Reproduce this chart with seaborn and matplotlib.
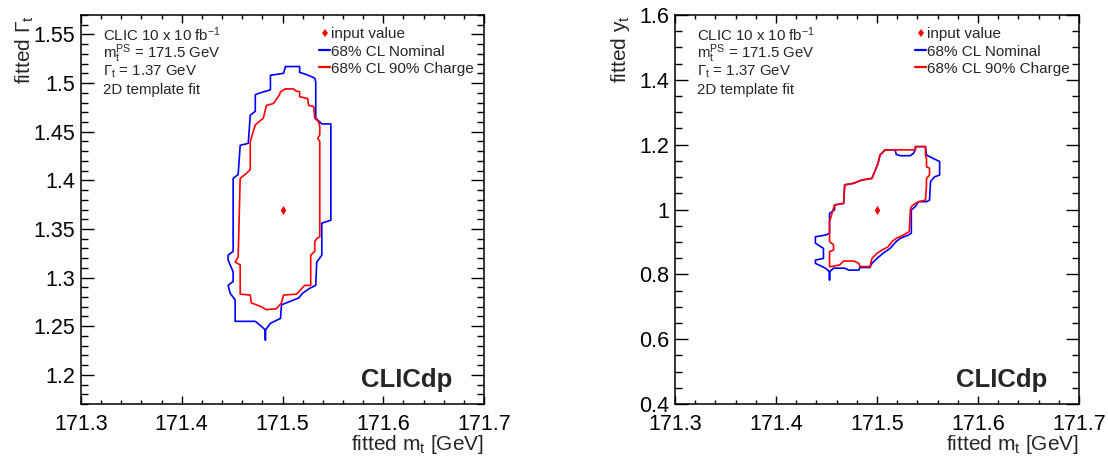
import numpy as np
import matplotlib
matplotlib.use("Agg")
import matplotlib.pyplot as plt
import seaborn as sns
from matplotlib.lines import Line2D
from matplotlib.ticker import MultipleLocator, FuncFormatter

# ---------------- data ----------------
input_mt = 171.5
input_width = 1.37
input_yt = 1.0

# left panel: (m_t, Gamma_t) 68% CL contours
left_nom_x = [171.503, 171.517, 171.517, 171.523, 171.528, 171.532, 171.533, 171.533, 171.537, 171.539,
              171.548, 171.548, 171.539, 171.539, 171.534, 171.533, 171.527, 171.520, 171.516, 171.499,
              171.498, 171.488, 171.483, 171.483, 171.483, 171.479, 171.473, 171.464, 171.453, 171.453,
              171.448, 171.446, 171.451, 171.451, 171.446, 171.446, 171.451, 171.451, 171.456, 171.458,
              171.466, 171.468, 171.473, 171.473, 171.478, 171.488, 171.488, 171.501, 171.503]
left_nom_y = [1.517, 1.517, 1.511, 1.509, 1.507, 1.505, 1.501, 1.464, 1.460, 1.458,
              1.458, 1.359, 1.356, 1.323, 1.316, 1.292, 1.289, 1.284, 1.279, 1.272,
              1.258, 1.253, 1.246, 1.236, 1.246, 1.250, 1.255, 1.255, 1.255, 1.277,
              1.284, 1.292, 1.296, 1.306, 1.318, 1.323, 1.327, 1.402, 1.406, 1.436,
              1.438, 1.467, 1.471, 1.488, 1.490, 1.493, 1.508, 1.510, 1.517]

left_chg_x = [171.503, 171.511, 171.513, 171.517, 171.517, 171.525, 171.526, 171.531, 171.532, 171.536,
              171.537, 171.537, 171.535, 171.537, 171.537, 171.534, 171.532, 171.532, 171.528, 171.528,
              171.522, 171.514, 171.501, 171.499, 171.494, 171.484, 171.479, 171.469, 171.468, 171.458,
              171.458, 171.453, 171.456, 171.458, 171.464, 171.468, 171.468, 171.473, 171.481, 171.484,
              171.491, 171.497, 171.498, 171.503]
left_chg_y = [1.494, 1.494, 1.492, 1.491, 1.486, 1.484, 1.477, 1.476, 1.464, 1.460,
              1.455, 1.447, 1.443, 1.440, 1.342, 1.340, 1.337, 1.327, 1.323, 1.292,
              1.292, 1.283, 1.282, 1.274, 1.268, 1.267, 1.270, 1.274, 1.282, 1.283,
              1.313, 1.316, 1.321, 1.402, 1.407, 1.411, 1.440, 1.457, 1.464, 1.477,
              1.479, 1.488, 1.491, 1.494]

# right panel: (m_t, y_t) 68% CL contours
right_nom_x = [171.508, 171.518, 171.519, 171.523, 171.533, 171.536, 171.538, 171.538, 171.548, 171.549,
               171.554, 171.562, 171.562, 171.557, 171.553, 171.552, 171.549, 171.541, 171.538, 171.534,
               171.534, 171.531, 171.523, 171.519, 171.516, 171.513, 171.506, 171.500, 171.495, 171.493,
               171.483, 171.482, 171.472, 171.468, 171.457, 171.453, 171.453, 171.453, 171.449, 171.439,
               171.439, 171.447, 171.447, 171.439, 171.439, 171.449, 171.453, 171.453, 171.458, 171.458,
               171.467, 171.468, 171.477, 171.485, 171.495, 171.501, 171.503, 171.508]
right_nom_y = [1.184, 1.184, 1.170, 1.166, 1.166, 1.173, 1.184, 1.194, 1.194, 1.168,
               1.160, 1.148, 1.106, 1.101, 1.086, 1.029, 1.024, 1.024, 1.009, 0.999,
               0.927, 0.921, 0.911, 0.901, 0.891, 0.880, 0.865, 0.849, 0.834, 0.821,
               0.821, 0.813, 0.813, 0.819, 0.819, 0.808, 0.783, 0.808, 0.819, 0.834,
               0.844, 0.849, 0.880, 0.896, 0.916, 0.921, 0.927, 0.988, 0.999, 1.014,
               1.019, 1.076, 1.081, 1.091, 1.096, 1.142, 1.168, 1.184]

right_chg_x = [171.508, 171.538, 171.538, 171.548, 171.548, 171.549, 171.549, 171.552, 171.552, 171.549,
               171.549, 171.548, 171.541, 171.538, 171.534, 171.533, 171.532, 171.526, 171.519, 171.515,
               171.511, 171.505, 171.500, 171.495, 171.493, 171.483, 171.482, 171.477, 171.467, 171.463,
               171.455, 171.453, 171.453, 171.457, 171.457, 171.453, 171.453, 171.458, 171.467, 171.468,
               171.477, 171.485, 171.495, 171.501, 171.503, 171.508]
right_chg_y = [1.184, 1.184, 1.194, 1.194, 1.166, 1.158, 1.132, 1.127, 1.106, 1.096,
               1.076, 1.029, 1.024, 1.019, 1.009, 0.999, 0.932, 0.921, 0.911, 0.901,
               0.885, 0.875, 0.865, 0.849, 0.824, 0.824, 0.834, 0.841, 0.841, 0.829,
               0.824, 0.824, 0.870, 0.875, 0.891, 0.901, 0.963, 1.014, 1.019, 1.076,
               1.081, 1.091, 1.096, 1.142, 1.168, 1.184]

info_lines_left = ["CLIC 10 x 10 fb$^{-1}$", "m$_t^{PS}$ = 171.5 GeV", "Γ$_t$ = 1.37 GeV", "2D template fit"]
info_lines_right = info_lines_left
legend_labels = ["input value", "68% CL Nominal", "68% CL 90% Charge"]

# ---------------- style ----------------
sns.set_theme(style="ticks")
plt.rcParams["font.family"] = ["Liberation Sans", "DejaVu Sans"]
plt.rcParams["mathtext.default"] = "regular"
plt.rcParams["axes.linewidth"] = 1.1

BLUE = "#0000ff"
RED = "#ff0000"

fig = plt.figure(figsize=(11.08, 4.61), dpi=100)
ax_l = fig.add_axes([81 / 1108, 57 / 461, 403 / 1108, 389 / 461])
ax_r = fig.add_axes([675 / 1108, 57 / 461, 404 / 1108, 389 / 461])

fmt = FuncFormatter(lambda v, p: "%g" % round(v, 4))


def style_axes(ax, ylim, ymaj, ymin, ylabel, ylab_x):
    ax.set_xlim(171.3, 171.7)
    ax.set_ylim(*ylim)
    ax.xaxis.set_major_locator(MultipleLocator(0.1))
    ax.xaxis.set_minor_locator(MultipleLocator(0.02))
    ax.yaxis.set_major_locator(MultipleLocator(ymaj))
    ax.yaxis.set_minor_locator(MultipleLocator(ymin))
    ax.xaxis.set_major_formatter(fmt)
    ax.yaxis.set_major_formatter(fmt)
    ax.tick_params(which="both", direction="in", top=True, right=True, colors="black", width=1.0)
    ax.tick_params(axis="x", which="major", length=6, pad=7, labelsize=15.5)
    ax.tick_params(axis="x", which="minor", length=3)
    ax.tick_params(axis="y", which="major", length=9.5, pad=4, labelsize=15.5)
    ax.tick_params(axis="y", which="minor", length=5)
    for s in ax.spines.values():
        s.set_color("black")
        s.set_linewidth(1.1)
    ax.set_xlabel("fitted m$_t$ [GeV]", loc="right", fontsize=15, va="center")
    ax.xaxis.set_label_coords(1.0, -0.103)
    ax.set_ylabel(ylabel, loc="top", fontsize=15, va="center")
    ax.yaxis.set_label_coords(ylab_x, 1.0)


def draw_panel(ax, nx, ny, cx, cy, truth_y, info, leg_x):
    sns.lineplot(x=nx, y=ny, sort=False, estimator=None, color=BLUE, lw=1.2, ax=ax)
    sns.lineplot(x=cx, y=cy, sort=False, estimator=None, color=RED, lw=1.2, ax=ax)
    sns.scatterplot(x=[input_mt], y=[truth_y], marker="d", color=RED, s=22, linewidth=0, ax=ax)
    for i, t in enumerate(info):
        ax.text(0.0546, 0.9486 - i * 0.0472, t, transform=ax.transAxes, fontsize=10.8, va="center", ha="left")
    handles = [Line2D([], [], color=RED, marker="d", ls="none", markersize=4.5, markeredgewidth=0),
               Line2D([], [], color=BLUE, lw=1.6),
               Line2D([], [], color=RED, lw=1.6)]
    ax.legend(handles, legend_labels, loc="upper left", bbox_to_anchor=(leg_x, 0.968), frameon=False,
              fontsize=11, handlelength=0.75, handletextpad=0.05, labelspacing=0.2, borderpad=0,
              borderaxespad=0)
    ax.text(0.921, 0.044, "CLICdp", transform=ax.transAxes, fontsize=18.5, fontweight="bold",
            ha="right", va="baseline")


draw_panel(ax_l, left_nom_x, left_nom_y, left_chg_x, left_chg_y, input_width, info_lines_left, 0.5906)
draw_panel(ax_r, right_nom_x, right_nom_y, right_chg_x, right_chg_y, input_yt, info_lines_right, 0.594)
style_axes(ax_l, (1.17, 1.57), 0.05, 0.01, "fitted Γ$_t$", -0.139)
style_axes(ax_r, (0.4, 1.6), 0.2, 0.05, "fitted y$_t$", -0.136)

fig.savefig("out.png", dpi=100)
